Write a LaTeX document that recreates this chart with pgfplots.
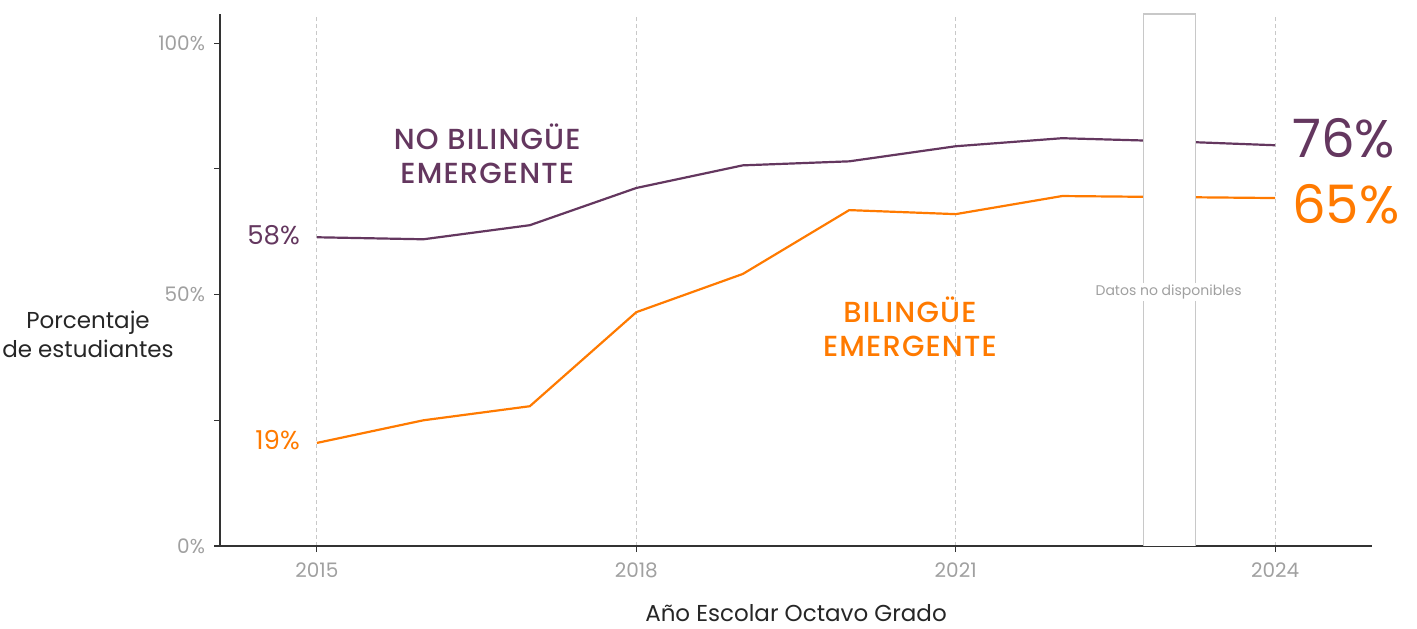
\documentclass[border=0pt]{standalone}
\usepackage{pgfplots}
\pgfplotsset{compat=1.18}
\usepackage{fontspec}
\setmainfont{Poppins}[BoldFont={Poppins Medium}]
\definecolor{cpurp}{HTML}{64375F}
\definecolor{corange}{HTML}{FF7A00}
\definecolor{cgrey}{HTML}{A0A0A0}
\definecolor{caxis}{HTML}{333333}
\definecolor{cgrid}{HTML}{C8C8C8}
\begin{document}
\begin{tikzpicture}
\begin{axis}[
  name=ax,
  scale only axis,
  width=576pt, height=266pt,
  xmin=2014.09, xmax=2024.91,
  ymin=0, ymax=105.8,
  axis x line*=bottom, axis y line*=left,
  axis line style={caxis, line width=0.7pt},
  xtick={2015,2018,2021,2024},
  xticklabels={2015,2018,2021,2024},
  ytick={0,25,50,75,100},
  yticklabels={0\%,,50\%,,100\%},
  tick align=outside,
  major tick length=3pt,
  tick style={caxis, line width=0.6pt},
  ticklabel style={font=\fontsize{10}{12}\selectfont, text=cgrey},
  xticklabel style={yshift=-2pt},
  yticklabel style={xshift=-1pt},
  xmajorgrids,
  grid style={cgrid, dash pattern=on 2pt off 1.5pt, line width=0.4pt},
  clip=false,
  xlabel={Año Escolar Octavo Grado},
  xlabel style={at={(axis description cs:0.5,0)}, anchor=center, yshift=-33.5pt, font=\fontsize{11.5}{13}\selectfont, text=black!85},
]
\addplot[cpurp, line width=1.1pt] coordinates {
(2015,61.4) (2016,61.0) (2017,63.8) (2018,71.2) (2019,75.7) (2020,76.5) (2021,79.5) (2022,81.1) (2023,80.5) (2024,79.7)};
\addplot[corange, line width=1.1pt] coordinates {
(2015,20.5) (2016,25.0) (2017,27.8) (2018,46.5) (2019,54.1) (2020,66.8) (2021,66.0) (2022,69.6) (2023,69.4) (2024,69.2)};
% not available box
\fill[white] (axis cs:2022.76,0) rectangle (axis cs:2023.25,105.8);
\draw[cgrid, line width=0.6pt] (axis cs:2022.76,0) -- (axis cs:2022.76,105.8) -- (axis cs:2023.25,105.8) -- (axis cs:2023.25,0);
\node[fill=white, inner sep=1pt, text=cgrey, font=\fontsize{7}{8}\selectfont] at (axis cs:2023.0,50.5) {Datos no disponibles};
% series labels
\node[align=center, text=cpurp, font=\fontsize{14.5}{17}\selectfont\bfseries\addfontfeatures{LetterSpace=4}] at (axis cs:2016.6,78.1) {NO BILINGÜE\\EMERGENTE};
\node[align=center, text=corange, font=\fontsize{14.5}{17}\selectfont\bfseries\addfontfeatures{LetterSpace=4}] at (axis cs:2020.57,43.7) {BILINGÜE\\EMERGENTE};
\node[anchor=east, text=cpurp, font=\fontsize{13}{15}\selectfont, xshift=-5pt] at (axis cs:2015,61.8) {58\%};
\node[anchor=east, text=corange, font=\fontsize{13}{15}\selectfont, xshift=-5pt] at (axis cs:2015,21) {19\%};
\node[anchor=west, text=cpurp, font=\fontsize{26.5}{30}\selectfont, xshift=5pt] at (axis cs:2024,81.1) {76\%};
\node[anchor=west, text=corange, font=\fontsize{26.5}{30}\selectfont, xshift=5pt] at (axis cs:2024,68) {65\%};
\node[align=center, text=black!85, font=\fontsize{11.5}{14.5}\selectfont, xshift=-66pt] at (axis cs:2014.09,42) {Porcentaje\\de estudiantes};
\end{axis}
\pgfresetboundingbox
\path ([xshift=-110pt,yshift=-41pt]ax.south west) rectangle ([xshift=22.5pt,yshift=7pt]ax.north east);
\end{tikzpicture}
\end{document}
